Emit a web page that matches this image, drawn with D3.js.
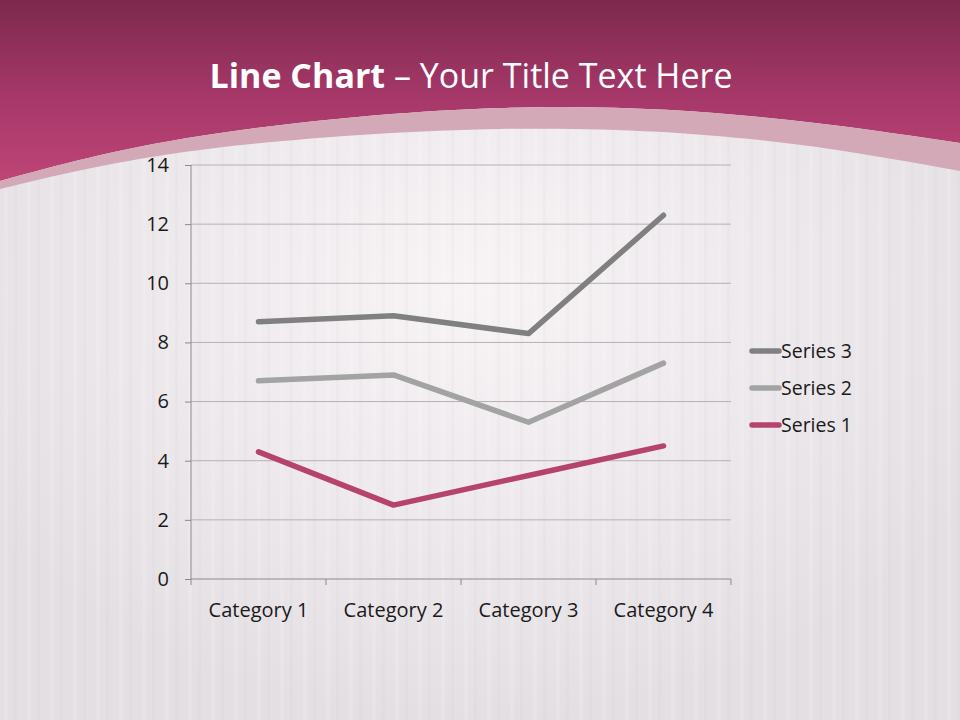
<!DOCTYPE html>
<html><head><meta charset="utf-8">
<script src="https://cdn.jsdelivr.net/npm/d3@7"></script>
<style>html,body{margin:0;padding:0;background:#e9e5e8;}svg{display:block;}</style>
</head><body>
<script>
const categories = ["Category 1","Category 2","Category 3","Category 4"];
const series1 = [4.3, 2.5, 3.5, 4.5];
const series2 = [2.4, 4.4, 1.8, 2.8];
const series3 = [2, 2, 3, 5];
const seriesNames = ["Series 1","Series 2","Series 3"];
const yTicks = [0,2,4,6,8,10,12,14];
const colors = {"Series 1":"#b5436e","Series 2":"#a3a3a3","Series 3":"#808080"};

const W=960,H=720;
const svg=d3.select("body").append("svg").attr("width",W).attr("height",H);
const defs=svg.append("defs");
const tg=defs.append("linearGradient").attr("id","topg").attr("x1",0).attr("y1",0).attr("x2",0).attr("y2",1);
tg.append("stop").attr("offset","0%").attr("stop-color","#7c294c");
tg.append("stop").attr("offset","55%").attr("stop-color","#a7386a");
tg.append("stop").attr("offset","100%").attr("stop-color","#bd4575");
const rg=defs.append("radialGradient").attr("id","bgr").attr("cx","0.49").attr("cy","0.4").attr("r","0.6");
rg.append("stop").attr("offset","0%").attr("stop-color","#f8f4f6");
rg.append("stop").attr("offset","100%").attr("stop-color","#e4dfe3");
const pat=defs.append("pattern").attr("id","stripes").attr("width",23).attr("height",720).attr("patternUnits","userSpaceOnUse");
pat.append("rect").attr("x",4).attr("width",4).attr("height",720).attr("fill","#ffffff").attr("opacity",0.12);
pat.append("rect").attr("x",14).attr("width",3).attr("height",720).attr("fill","#cfc8cd").attr("opacity",0.1);

svg.append("rect").attr("width",W).attr("height",H).attr("fill","url(#bgr)");
svg.append("rect").attr("width",W).attr("height",H).attr("fill","url(#stripes)");

const curve=d3.line().curve(d3.curveNatural);
const pinkEdge=[[0,181],[200,136],[500,108],[760,117],[960,143]];
const whiteEdge=[[0,189],[200,150],[500,129],[760,140],[960,171]];
svg.append("path").attr("d","M0,0 L960,0 L960,143 "+curve(pinkEdge.slice().reverse()).replace(/^M/,"L")+" Z").attr("fill","url(#topg)");
svg.append("path").attr("d",curve(pinkEdge)+" L960,171 "+curve(whiteEdge.slice().reverse()).replace(/^M/,"L")+" Z").attr("fill","#d3a8b7");

// title
const title=svg.append("text").attr("x",471).attr("y",88).attr("text-anchor","middle")
  .attr("font-family","Open Sans, sans-serif").attr("font-size",34).attr("fill","#ffffff");
title.append("tspan").attr("font-weight","bold").text("Line Chart");
title.append("tspan").text(" \u2013 Your Title Text Here");

// scales
const x0=191,x1=731,y0=579,y1=165;
const xb=d3.scaleBand().domain(categories).range([x0,x1]);
const y=d3.scaleLinear().domain([0,14]).range([y0,y1]);

const g=svg.append("g");
g.append("g").selectAll("line").data(yTicks.filter(t=>t>0)).join("line")
  .attr("x1",x0).attr("x2",x1).attr("y1",d=>y(d)).attr("y2",d=>y(d))
  .attr("stroke","#b5b1b4").attr("stroke-width",1);
const ya=g.append("g").attr("transform",`translate(${x0},0)`).call(d3.axisLeft(y).tickValues(yTicks).tickSize(6).tickPadding(16).tickFormat(d3.format("d")));
ya.select(".domain").attr("stroke","#8a8a8a").attr("d",`M0,${y0}V${y1}`);
ya.selectAll(".tick line").attr("stroke","#8a8a8a");
ya.selectAll("text").style("font-size","20px").attr("fill","#1a1a1a").style("font-family","Open Sans, sans-serif");
const xa=g.append("g").attr("transform",`translate(0,${y0})`).call(d3.axisBottom(xb).tickSize(0).tickPadding(24));
xa.select(".domain").attr("stroke","#8a8a8a").attr("d",`M${x0},0H${x1}`);
xa.selectAll("text").style("font-size","20px").attr("fill","#1a1a1a").style("font-family","Open Sans, sans-serif");
const edges=categories.map(c=>xb(c)).concat([xb(categories[categories.length-1])+xb.bandwidth()]);
g.append("g").selectAll("line").data(edges).join("line")
  .attr("x1",d=>d).attr("x2",d=>d).attr("y1",y0).attr("y2",y0+6).attr("stroke","#8a8a8a");

const rows=categories.map((c,i)=>({cat:c,"Series 1":series1[i],"Series 2":series2[i],"Series 3":series3[i]}));
const stacked=d3.stack().keys(seriesNames)(rows);
const ln=d3.line().x(d=>xb(d.data.cat)+xb.bandwidth()/2).y(d=>y(d[1]));
g.append("g").selectAll("path").data(stacked).join("path")
  .attr("d",ln).attr("fill","none").attr("stroke",s=>colors[s.key])
  .attr("stroke-width",5.5).attr("stroke-linecap","round").attr("stroke-linejoin","round");

const legOrder=["Series 3","Series 2","Series 1"];
const lg=svg.append("g").selectAll("g").data(legOrder).join("g")
  .attr("transform",(d,i)=>`translate(752,${351+i*37})`);
lg.append("line").attr("x1",0).attr("x2",27).attr("stroke",d=>colors[d]).attr("stroke-width",5.5).attr("stroke-linecap","round");
lg.append("text").attr("x",29).attr("dy","0.35em").style("font-family","Open Sans, sans-serif")
  .style("font-size","19.5px").attr("fill","#1a1a1a").text(d=>d);
</script>
</body></html>
